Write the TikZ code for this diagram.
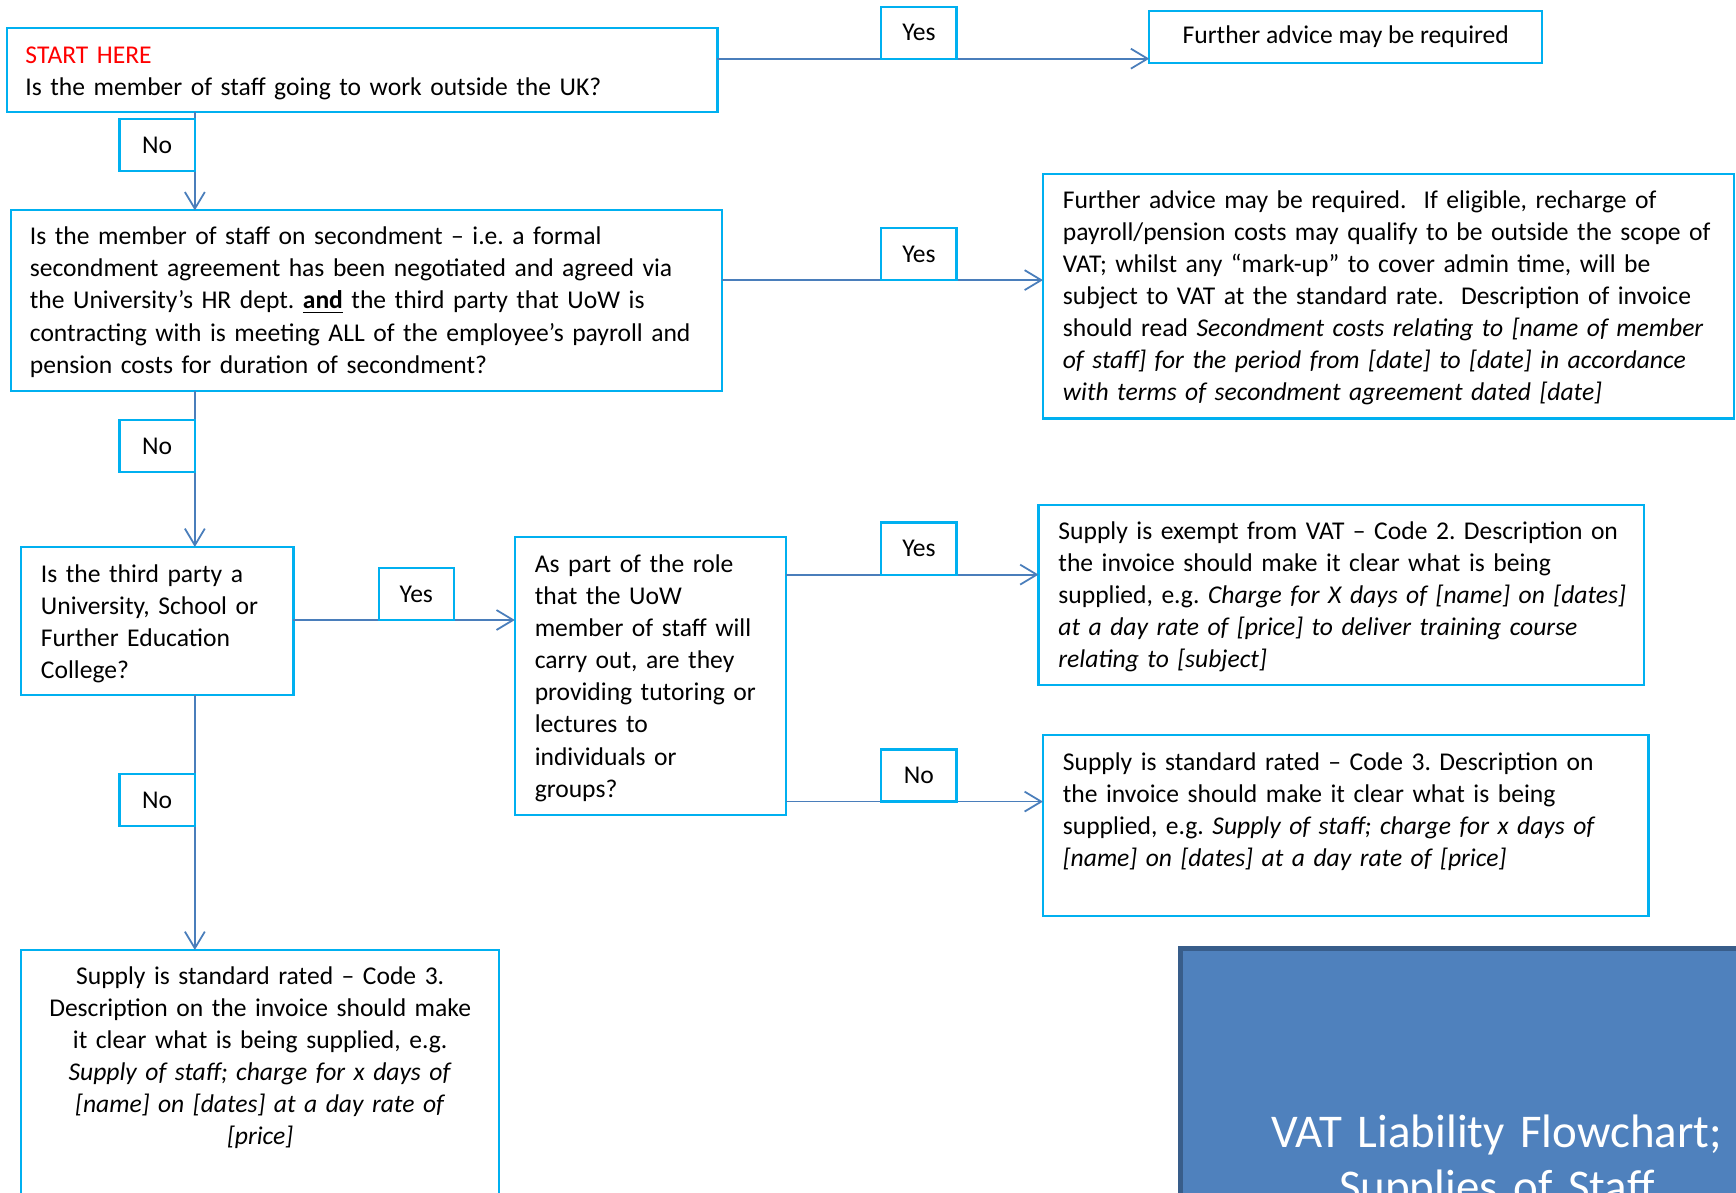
\documentclass[tikz,border=0pt]{standalone}
\usepackage{fontspec}
\setmainfont{Carlito}
\usetikzlibrary{arrows.meta}
\definecolor{boxc}{HTML}{00B0F0}
\definecolor{linec}{HTML}{4A7EBB}
\definecolor{titlefill}{HTML}{4F81BD}
\definecolor{titledraw}{HTML}{385D8A}
\definecolor{startred}{HTML}{FF0000}
\frenchspacing
\begin{document}
\begin{tikzpicture}[x=0.5pt,y=-0.5pt,
  every node/.style={font=\fontsize{11.55}{14.5}\selectfont\frenchspacing, inner sep=0pt, outer sep=0pt},
  frame/.style={draw=boxc, line width=1pt, fill=white, rectangle, anchor=north west},
  lab/.style={draw=boxc, line width=1pt, fill=white, rectangle, minimum width=34pt, minimum height=23.5pt},
  conn/.style={draw=linec, line width=0.8pt, -{Straight Barb[length=7.5pt,width=9pt]}},
  txt/.style={anchor=base west, align=left, text width=#1},
  ctxt/.style={anchor=base, align=center, text width=#1},
]
\clip (0,0) rectangle (1568,1077);
\useasboundingbox (0,0) rectangle (1568,1077);

% boxes
\node[frame, minimum width=321pt, minimum height=38pt] (b1) at (6,25) {};
\node[frame, minimum width=177.5pt, minimum height=23.5pt] (b2) at (1038,10) {};
\node[frame, minimum width=321pt, minimum height=81.5pt] (b3) at (10,190) {};
\node[frame, minimum width=312pt, minimum height=110.5pt] (b4) at (942,157) {};
\node[frame, minimum width=123pt, minimum height=67pt] (b5) at (19,494) {};
\node[frame, minimum width=122.5pt, minimum height=125.5pt] (b6) at (465,485) {};
\node[frame, minimum width=273.5pt, minimum height=81.5pt] (b7) at (938,456) {};
\node[frame, minimum width=273.5pt, minimum height=81.5pt] (b8) at (942,664) {};
\node[frame, minimum width=216pt, minimum height=121pt] (b9) at (19,858) {};
\node[frame, draw=titledraw, fill=titlefill, line width=2.2pt, minimum width=287.5pt, minimum height=137pt] (title) at (1066,857) {};

% labels (positions)
\node[lab] (yes1) at (830,29.5) {Yes};
\node[lab] (yes2) at (830,229.5) {Yes};
\node[lab] (yes3) at (376,536.5) {Yes};
\node[lab] (yes4) at (830,495.5) {Yes};
\node[lab] (no1) at (142,131) {No};
\node[lab] (no2) at (142,403) {No};
\node[lab] (no3) at (830,700.5) {No};
\node[lab] (no4) at (142,722.5) {No};

% connectors
\draw[conn] (yes1.south -| b1.east) -- (yes1.south -| b2.west);
\draw[conn] (no1.east |- b1.south) -- (no1.east |- b3.north);
\draw[conn] (yes2.south -| b3.east) -- (yes2.south -| b4.west);
\draw[conn] (no2.east |- b3.south) -- (no2.east |- b5.north);
\draw[conn] (yes3.south -| b5.east) -- (yes3.south -| b6.west);
\draw[conn] (yes4.south -| b6.east) -- (yes4.south -| b7.west);
\draw[conn] (no3.south -| b6.east) -- (no3.south -| b8.west);
\draw[conn] (no4.east |- b5.south) -- (no4.east |- b9.north);

% redraw labels on top
\node[lab] at (yes1) {Yes};
\node[lab] at (yes2) {Yes};
\node[lab] at (yes3) {Yes};
\node[lab] at (yes4) {Yes};
\node[lab] at (no1) {No};
\node[lab] at (no2) {No};
\node[lab] at (no3) {No};
\node[lab] at (no4) {No};

% texts
\node[txt=310pt] (t1) at (23,57) {\textcolor{startred}{START HERE}\\Is the member of staff going to work outside the UK?};
\node (t2) at (b2.center) {Further advice may be required};
\node[txt=310pt] (t3) at (27,221) {Is the member of staff on secondment – i.e. a formal\\secondment agreement has been negotiated and agreed via\\the University's HR dept. \underline{\textbf{and}} the third party that UoW is\\contracting with is meeting ALL of the employee’s payroll and\\pension costs for duration of secondment?};
\node[txt=305pt] (t4) at (960,188) {Further advice may be required.~ If eligible, recharge of\\payroll/pension costs may qualify to be outside the scope of\\VAT; whilst any “mark-up” to cover admin time, will be\\subject to VAT at the standard rate.~ Description of invoice\\should read \textit{Secondment costs relating to [name of member}\\\textit{of staff] for the period from [date] to [date] in accordance}\\\textit{with terms of secondment agreement dated [date]}};
\node[txt=115pt] (t5) at (37,526) {Is the third party a\\University, School or\\Further Education\\College?};
\node[txt=115pt] (t6) at (483,517) {As part of the role\\that the UoW\\member of staff will\\carry out, are they\\providing tutoring or\\lectures to\\individuals or\\groups?};
\node[txt=265pt] (t7) at (956,487) {Supply is exempt from VAT – Code 2. Description on\\the invoice should make it clear what is being\\supplied, e.g. \textit{Charge for X days of [name] on [dates]}\\\textit{at a day rate of [price] to deliver training course}\\\textit{relating to [subject]}};
\node[txt=265pt] (t8) at (960,696) {Supply is standard rated – Code 3. Description on\\the invoice should make it clear what is being\\supplied, e.g. \textit{Supply of staff; charge for x days of}\\\textit{[name] on [dates] at a day rate of [price]}};
\node[ctxt=210pt] (t9) at (235,889) {Supply is standard rated – Code 3.\\Description on the invoice should make\\it clear what is being supplied, e.g.\\\textit{Supply of staff; charge for x days of}\\\textit{[name] on [dates] at a day rate of}\\\textit{[price]}};
\node[ctxt=280pt, text=white, font=\fontsize{21.2}{25}\selectfont] (tt) at (1352,1036) {VAT Liability Flowchart;\\Supplies of Staff};
\end{tikzpicture}
\end{document}
